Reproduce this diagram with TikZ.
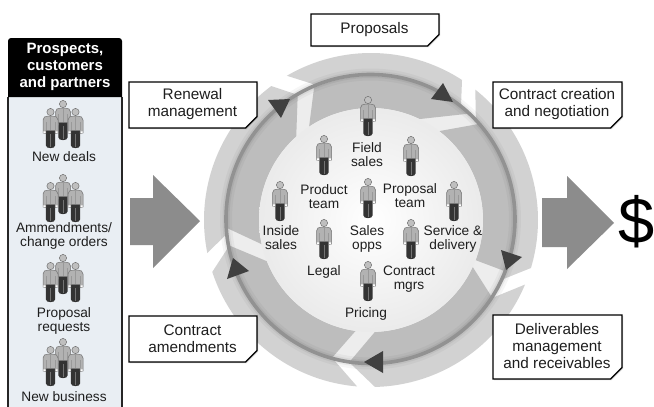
\documentclass[tikz,border=0pt]{standalone}
\usepackage{fontspec}
\setmainfont{Liberation Sans}
\usetikzlibrary{shadows}
\definecolor{ringout}{HTML}{D2D2D2}
\definecolor{ringin}{HTML}{BDBDBD}
\definecolor{ringgap}{HTML}{EDEDED}
\definecolor{ringline}{HTML}{929292}
\definecolor{headtri}{HTML}{404040}
\definecolor{fatarrow}{HTML}{8C8C8C}
\definecolor{panel}{HTML}{E9EEF3}
\definecolor{txt}{HTML}{1E1E1E}
\def\cx{371}\def\cy{220}
\newcommand\ringseg[9]{%
  \pgfmathsetmacro\aA{atan2(#3-\cy,#2-\cx)}%
  \pgfmathsetmacro\aB{atan2(#5-\cy,#4-\cx)}%
  \pgfmathsetmacro\aB{\aA+(\aB-\aA)-360*floor((\aB-\aA)/360)}%
  \pgfmathsetmacro\aC{atan2(#7-\cy,#6-\cx)}%
  \pgfmathsetmacro\aC{\aB+(\aC-\aB)-360*round((\aC-\aB)/360)}%
  \pgfmathsetmacro\aD{atan2(#9-\cy,#8-\cx)}%
  \pgfmathsetmacro\aD{\aA+(\aD-\aA)-360*round((\aD-\aA)/360)}%
  \fill[#1] plot[domain=\aA:\aB,samples=50] ({\cx+\rO*cos(\x)},{\cy+\rO*sin(\x)})
    -- plot[domain=\aC:\aD,samples=50] ({\cx+\rI*cos(\x)},{\cy+\rI*sin(\x)}) -- cycle;}
\newcommand\callout[6]{%
  \draw[calloutline] (#2,#3) -- (#4,#3) -- (#4,#5-11.5) -- (#4-11.5,#5) -- (#2,#5) -- cycle;
  \node[calloutlabel] (#1) at ({(#2+#4)/2-0.5},{(#3+#5)/2-0.5}) {#6};}
\tikzset{
  x=1pt,y=-1pt,
  calloutline/.style={draw=black,line width=1.1pt,fill=white,drop shadow={shadow xshift=1pt,shadow yshift=-1.2pt,opacity=.22,fill=black}},
  calloutlabel/.style={align=center,inner sep=0pt,text=txt,font=\fontsize{15.3}{17}\selectfont},
  smalllabel/.style={align=center,inner sep=0pt,text=txt,font=\fontsize{13.7}{14}\selectfont},
  headlabel/.style={align=center,inner sep=0pt,text=white,font=\fontsize{15}{17}\selectfont\bfseries},
  tri/.style={fill=headtri},
  fat/.style={fill=fatarrow},
  person/.pic={
    \fill[black!80] (-4.6,18) -- (4.6,18) -- (4.6,33.5) .. controls (4.6,37) and (-4.6,37) .. (-4.6,33.5) -- cycle;
    \draw[black!55,line width=.4pt] (0,22) -- (0,35);
    \filldraw[fill=black!30,draw=black!55,line width=.5pt] (-7.5,21) -- (-7.5,8) .. controls (-7.5,5) and (-5,4.2) .. (-3,4.2) -- (3,4.2) .. controls (5,4.2) and (7.5,5) .. (7.5,8) -- (7.5,21) -- (4.7,21.5) -- (4.7,18.5) -- (-4.7,18.5) -- (-4.7,21.5) -- cycle;
    \draw[black!40,line width=.3pt] (-4.5,10) -- (-4.5,18) (4.5,10) -- (4.5,18) (0,5) -- (0,18);
    \fill[white] (-7.2,19.4) rectangle (-5,21) (5,19.4) rectangle (7.2,21);
    \filldraw[fill=black!25,draw=black!55,line width=.5pt] (0,0) circle[radius=3.6];
  },
  trio/.pic={
    \pic at (0,0) {person};
    \pic at (-12.5,8) {person};
    \pic at (12.5,8) {person};
  }
}
\begin{document}
\begin{tikzpicture}
\useasboundingbox (0,0) rectangle (654,407);
\fill[white] (0,0) rectangle (654,407);
% outer ring segments
\def\rO{167}\def\rI{144}
\ringseg{ringout}{287}{76}{462}{80}{463}{105}{318}{84}
\ringseg{ringout}{475}{90}{531}{268}{503}{280}{472}{125}
\ringseg{ringout}{526}{285}{375}{388}{350}{358}{492}{298}
\ringseg{ringout}{357}{387}{212}{272}{233}{245}{333}{359}
\ringseg{ringout}{208}{253}{272}{87}{300}{97}{227}{233}
% base disc
\fill[ringgap] (\cx,\cy) circle[radius=144];
% inner band segments
\def\rO{144}\def\rI{112}
\ringseg{ringin}{315}{90}{467}{115}{420}{118}{308}{125}
\ringseg{ringin}{475}{127}{507}{272}{483}{263}{440}{130}
\ringseg{ringin}{488}{295}{350}{357}{375}{335}{475}{268}
\ringseg{ringin}{333}{353}{232}{245}{265}{262}{355}{335}
\ringseg{ringin}{230}{228}{300}{100}{293}{133}{258}{245}
% centre disc
\shade[inner color=white,outer color=black!8] (\cx,\cy) circle[radius=112];
% soft shading round the ring line
\draw[black,opacity=.035,line width=12pt] (370.5,219) circle[radius=144.5];
\draw[black,opacity=.05,line width=7pt] (370.5,219) circle[radius=144.5];
\draw[ringline,line width=3.6pt] (370.5,219) circle[radius=144.5];
% ring arrowheads
\fill[tri] (443,83) -- (431,99) -- (453,102) -- cycle;
\fill[tri] (268,100) -- (290,99) -- (281,118) -- cycle;
\fill[tri] (501,250) -- (522,257) -- (506,270) -- cycle;
\fill[tri] (364,362) -- (383,351) -- (383,373) -- cycle;
\fill[tri] (233,258) -- (249,271) -- (227,279) -- cycle;
% fat arrows
\fill[fat] (130,198) -- (153,198) -- (153,175) -- (200,221) -- (153,268) -- (153,245) -- (130,245) -- cycle;
\fill[fat] (542,198) -- (567,198) -- (567,176) -- (614,223) -- (567,269) -- (567,247) -- (542,247) -- cycle;
\node[inner sep=0pt,text=black,font=\fontsize{65}{68}\selectfont] (dollar) at (636.5,222) {\$};
% left panel
\fill[panel] (8,97) rectangle (122,407);
\draw[black!85,line width=1.1pt] (8,407) -- (8,97) (122,97) -- (122,407);
\fill[black] (8,97) -- (8,41) arc[start angle=180,end angle=270,radius=3] -- (119,38) arc[start angle=270,end angle=360,radius=3] -- (122,97) -- cycle;
\node[headlabel] (panelhead) at (65,67) {Prospects,\\customers\\and partners};
\pic at (63,104) {trio};
\pic at (63,178) {trio};
\pic at (63,258) {trio};
\pic at (63,342) {trio};
\node[smalllabel] (newdeals) at (64,157) {New deals};
\node[smalllabel] (amend) at (64,236) {Ammendments/\\change orders};
\node[smalllabel] (propreq) at (64,321) {Proposal\\requests};
\node[smalllabel] (newbiz) at (64,397) {New business};
% callouts
\callout{proposals}{311}{14}{439}{46}{Proposals}
\callout{renewal}{129}{82}{257}{128}{Renewal\\management}
\callout{creation}{493}{82}{622}{128}{Contract creation\\and negotiation}
\callout{amendments}{129}{316}{257}{362}{Contract\\amendments}
\callout{deliver}{493}{315}{622}{379}{Deliverables\\management\\and receivables}
% people
\pic at (368,100) {person};
\pic at (324,139) {person};
\pic at (411,140) {person};
\pic at (280,185) {person};
\pic at (368,182) {person};
\pic at (454,185) {person};
\pic at (324,223) {person};
\pic at (411,223) {person};
\pic at (368,265) {person};
\node[smalllabel] (field) at (367,155) {Field\\sales};
\node[smalllabel] (product) at (324,197) {Product\\team};
\node[smalllabel] (proposal) at (410,196) {Proposal\\team};
\node[smalllabel] (inside) at (281,238) {Inside\\sales};
\node[smalllabel] (salesopps) at (367,239) {Sales\\opps};
\node[smalllabel] (service) at (453,239) {Service \&\\delivery};
\node[smalllabel] (legal) at (324,272) {Legal};
\node[smalllabel] (contract) at (409,279) {Contract\\mgrs};
\node[smalllabel] (pricing) at (366,314) {Pricing};
\end{tikzpicture}
\end{document}
